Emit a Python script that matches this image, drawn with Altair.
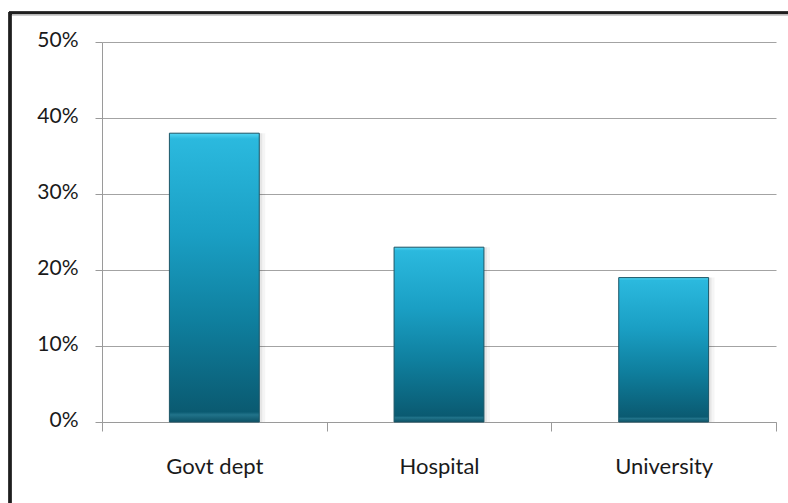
import altair as alt
import pandas as pd

# Share of respondents by employer type
categories = ["Govt dept", "Hospital", "University"]
shares = [0.38, 0.23, 0.19]

df = pd.DataFrame({"employer": categories, "share": shares})

FONT = "Lato"
BAR_BAND = 0.4  # bar width as a fraction of each category slot

bar_fill = alt.LinearGradient(
    gradient="linear",
    x1=0, y1=0, x2=0, y2=1,
    stops=[
        alt.GradientStop(color="#52d5f3", offset=0.0),
        alt.GradientStop(color="#2bb9de", offset=0.02),
        alt.GradientStop(color="#1a9fc4", offset=0.35),
        alt.GradientStop(color="#0f7f9e", offset=0.65),
        alt.GradientStop(color="#0a5a71", offset=0.965),
        alt.GradientStop(color="#21738a", offset=0.975),
        alt.GradientStop(color="#0b5165", offset=1.0),
    ],
)

x_enc = alt.X(
    "employer:N",
    sort=categories,
    scale=alt.Scale(paddingInner=0, paddingOuter=0),
    axis=alt.Axis(
        title=None,
        labelAngle=0,
        labelFont=FONT,
        labelFontSize=22,
        labelColor="#1a1a1a",
        labelBaseline="alphabetic",
        labelPadding=42,
        tickBand="extent",
        tickSize=9,
        tickColor="#9a9a9a",
        domainColor="#9a9a9a",
        grid=False,
    ),
)
y_enc = alt.Y(
    "share:Q",
    scale=alt.Scale(domain=[0, 0.5]),
    axis=alt.Axis(
        title=None,
        format=".0%",
        values=[0, 0.1, 0.2, 0.3, 0.4, 0.5],
        labelFont=FONT,
        labelFontSize=21,
        labelColor="#1a1a1a",
        labelPadding=17,
        labelOffset=-2,
        tickSize=7,
        tickColor="#9a9a9a",
        domainColor="#9a9a9a",
        gridColor="#a3a3a3",
        gridWidth=1,
    ),
)

base = alt.Chart(df).encode(x=x_enc, y=y_enc)
bar_width = alt.RelativeBandSize(BAR_BAND)

# soft drop shadow to the right of each bar
shadow1 = base.mark_bar(color="#000000", opacity=0.06, xOffset=3, width=bar_width)
shadow2 = base.mark_bar(color="#000000", opacity=0.04, xOffset=6, width=bar_width)

bars = base.mark_bar(fill=bar_fill, stroke="#1c5566", strokeWidth=1, width=bar_width)

# outer frame: thick top and left edges
frame_top = alt.Chart(df).mark_rule(color="#1e1e1e", strokeWidth=3).encode(
    x=alt.value(-93), x2=alt.value(700), y=alt.value(-29)
)
frame_top_shade = alt.Chart(df).mark_rule(color="#c8c8c8", strokeWidth=1).encode(
    x=alt.value(-90), x2=alt.value(700), y=alt.value(-27)
)
frame_left = alt.Chart(df).mark_rule(color="#1e1e1e", strokeWidth=3).encode(
    x=alt.value(-92), y=alt.value(-30), y2=alt.value(470)
)

chart = (
    alt.layer(shadow2, shadow1, bars, frame_top, frame_top_shade, frame_left)
    .properties(
        width=674,
        height=380,
        autosize=alt.AutoSizeParams(type="none"),
        padding={"left": 102, "top": 42, "right": 12, "bottom": 81},
        background="#ffffff",
    )
    .configure_view(stroke=None)
)

chart.save("out.html", embed_options={"renderer": "svg", "actions": False})
